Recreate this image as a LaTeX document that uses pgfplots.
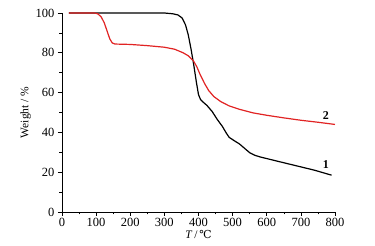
\documentclass[border=0pt]{standalone}
\usepackage{pgfplots}
\pgfplotsset{compat=1.18}
\usepackage{fontspec}
\setmainfont{Liberation Serif}
\newfontfamily\symfont{DejaVu Serif}
\definecolor{cred}{RGB}{225,35,35}
\begin{document}
\begin{tikzpicture}[x=1pt,y=1pt]
\path (0,0) rectangle (375,246);
\begin{axis}[
  at={(62pt,34pt)}, anchor=south west,
  scale only axis, width=273pt, height=199pt,
  xmin=0, xmax=800, ymin=0, ymax=100,
  axis lines*=left,
  xtick={0,100,...,800}, ytick={0,20,...,100},
  minor x tick num=1, minor y tick num=1,
  tick align=outside,
  major tick length=4pt, minor tick length=2.5pt,
  tick style={black, line width=0.6pt},
  axis line style={line width=0.7pt},
  /pgf/number format/assume math mode=true,
  ticklabel style={font=\fontsize{12.5}{14}\selectfont},
  xticklabel style={yshift=1pt},
  xlabel={\textit{T}\,/\,{\symfont\fontsize{11}{13}\selectfont ℃}},
  ylabel={Weight / \%},
  label style={font=\fontsize{11.5}{14}\selectfont},
  xlabel style={yshift=3pt},
  ylabel style={yshift=-2pt},
  clip=false,
]
\addplot[black, line width=1.2pt] coordinates {
(20,100) (100,100) (200,100) (300,100) (325,99.6) (340,99) (352,97.5) (362,94) (370,89) (378,82) (386,74) (394,65) (400,59) (406,56.5) (415,55) (425,53.5) (440,50.5) (455,46.5) (470,43) (482,39.5) (490,37.5) (505,35.8) (520,34.2) (535,32) (550,29.8) (565,28.5) (580,27.7) (620,26) (680,23.5) (740,21) (790,18.5)
};
\addplot[cred, line width=1.2pt] coordinates {
(20,100) (95,100) (105,99.6) (115,98) (124,95) (132,91) (140,87) (147,85) (155,84.4) (200,84.2) (250,83.6) (300,82.8) (330,81.8) (355,80) (370,78.5) (385,76) (395,73) (405,69) (418,64.5) (430,61) (445,58) (465,55.5) (490,53.3) (520,51.6) (560,49.8) (600,48.6) (650,47.3) (700,46.1) (750,45.1) (800,44)
};
\node[font=\bfseries\fontsize{12}{14}\selectfont] at (axis cs:773,48.5) {2};
\node[font=\bfseries\fontsize{12}{14}\selectfont] at (axis cs:773,24) {1};
\end{axis}
\end{tikzpicture}
\end{document}
